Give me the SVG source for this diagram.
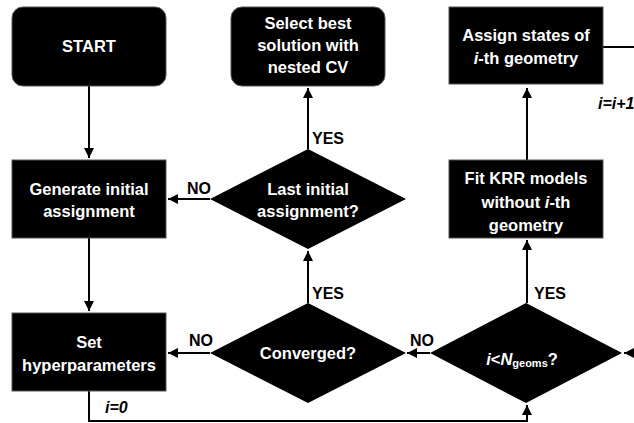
<svg xmlns="http://www.w3.org/2000/svg" width="634" height="423" viewBox="0 0 634 423">
<defs>
<marker id="ah" viewBox="0 0 10 10" refX="10" refY="5" markerWidth="5" markerHeight="5" orient="auto" markerUnits="strokeWidth">
<path d="M0,0 L10,5 L0,10 z" fill="#000"/>
</marker>
<style>
.box{fill:#000;stroke:#555;stroke-width:1}
.dia{fill:#000}
.t{font-family:"Liberation Sans",Arial,sans-serif;font-weight:bold;font-size:16.5px;fill:#fff;text-anchor:middle;dominant-baseline:central}
.lbl{font-family:"Liberation Sans",Arial,sans-serif;font-weight:bold;font-size:16px;fill:#000}
.it{font-style:italic}
.c{fill:none;stroke:#000;stroke-width:2}
</style>
</defs>
<rect width="634" height="423" fill="#fff"/>
<g id="connectors">
<path class="c" d="M89,86 V158" marker-end="url(#ah)"/>
<path class="c" d="M89,238 V311" marker-end="url(#ah)"/>
<path class="c" d="M210,199 H168" marker-end="url(#ah)"/>
<path class="c" d="M308,149 V88" marker-end="url(#ah)"/>
<path class="c" d="M210,353 H168" marker-end="url(#ah)"/>
<path class="c" d="M308,303 V251" marker-end="url(#ah)"/>
<path class="c" d="M430,353 H407" marker-end="url(#ah)"/>
<path class="c" d="M527,303 V240" marker-end="url(#ah)"/>
<path class="c" d="M527,160 V88" marker-end="url(#ah)"/>
<path class="c" d="M603,47 H634"/>
<path class="c" d="M634,353 H624" marker-end="url(#ah)"/>
<path class="c" d="M89,391 V421 H527 V405" marker-end="url(#ah)"/>
<text class="lbl" x="187" y="194">NO</text>
<text class="lbl" x="189" y="346">NO</text>
<text class="lbl" x="410" y="346">NO</text>
<text class="lbl" x="312" y="144">YES</text>
<text class="lbl" x="312" y="299">YES</text>
<text class="lbl" x="534" y="299">YES</text>
<text class="lbl it" x="598" y="109">i=i+1</text>
<text class="lbl it" x="105" y="413">i=0</text>
</g>
<g id="start">
<rect class="box" x="12" y="7" width="154" height="79" rx="11"/>
<text class="t" x="89" y="46">START</text>
</g>
<g id="select">
<rect class="box" x="231" y="7" width="154" height="79" rx="11"/>
<text class="t" x="308" y="23">Select best</text>
<text class="t" x="308" y="45">solution with</text>
<text class="t" x="308" y="67">nested CV</text>
</g>
<g id="assign">
<rect class="box" x="449" y="7" width="154" height="77"/>
<text class="t" x="526" y="35">Assign states of</text>
<text class="t" x="526" y="58"><tspan class="it">i</tspan>-th geometry</text>
</g>
<g id="generate">
<rect class="box" x="12" y="160" width="154" height="78"/>
<text class="t" x="89" y="189">Generate initial</text>
<text class="t" x="89" y="211">assignment</text>
</g>
<g id="last">
<path class="dia" d="M210,199 L308,149 L406,199 L308,249 z"/>
<text class="t" x="308" y="189">Last initial</text>
<text class="t" x="308" y="211">assignment?</text>
</g>
<g id="fit">
<rect class="box" x="449" y="160" width="154" height="78"/>
<text class="t" x="526" y="178">Fit KRR models</text>
<text class="t" x="526" y="202">without <tspan class="it">i</tspan>-th</text>
<text class="t" x="526" y="225">geometry</text>
</g>
<g id="sethyper">
<rect class="box" x="12" y="313" width="154" height="78"/>
<text class="t" x="89" y="342">Set</text>
<text class="t" x="89" y="365">hyperparameters</text>
</g>
<g id="converged">
<path class="dia" d="M210,353 L308,303 L406,353 L308,403 z"/>
<text class="t" x="308" y="353">Converged?</text>
</g>
<g id="iltn">
<path class="dia" d="M430,353 L526,303 L622,353 L526,403 z"/>
<text class="t" x="522" y="353" dominant-baseline="auto" dy="6"><tspan class="it">i</tspan>&lt;<tspan class="it">N</tspan><tspan font-size="11" dy="4">geoms</tspan><tspan dy="-4">?</tspan></text>
</g>
</svg>
